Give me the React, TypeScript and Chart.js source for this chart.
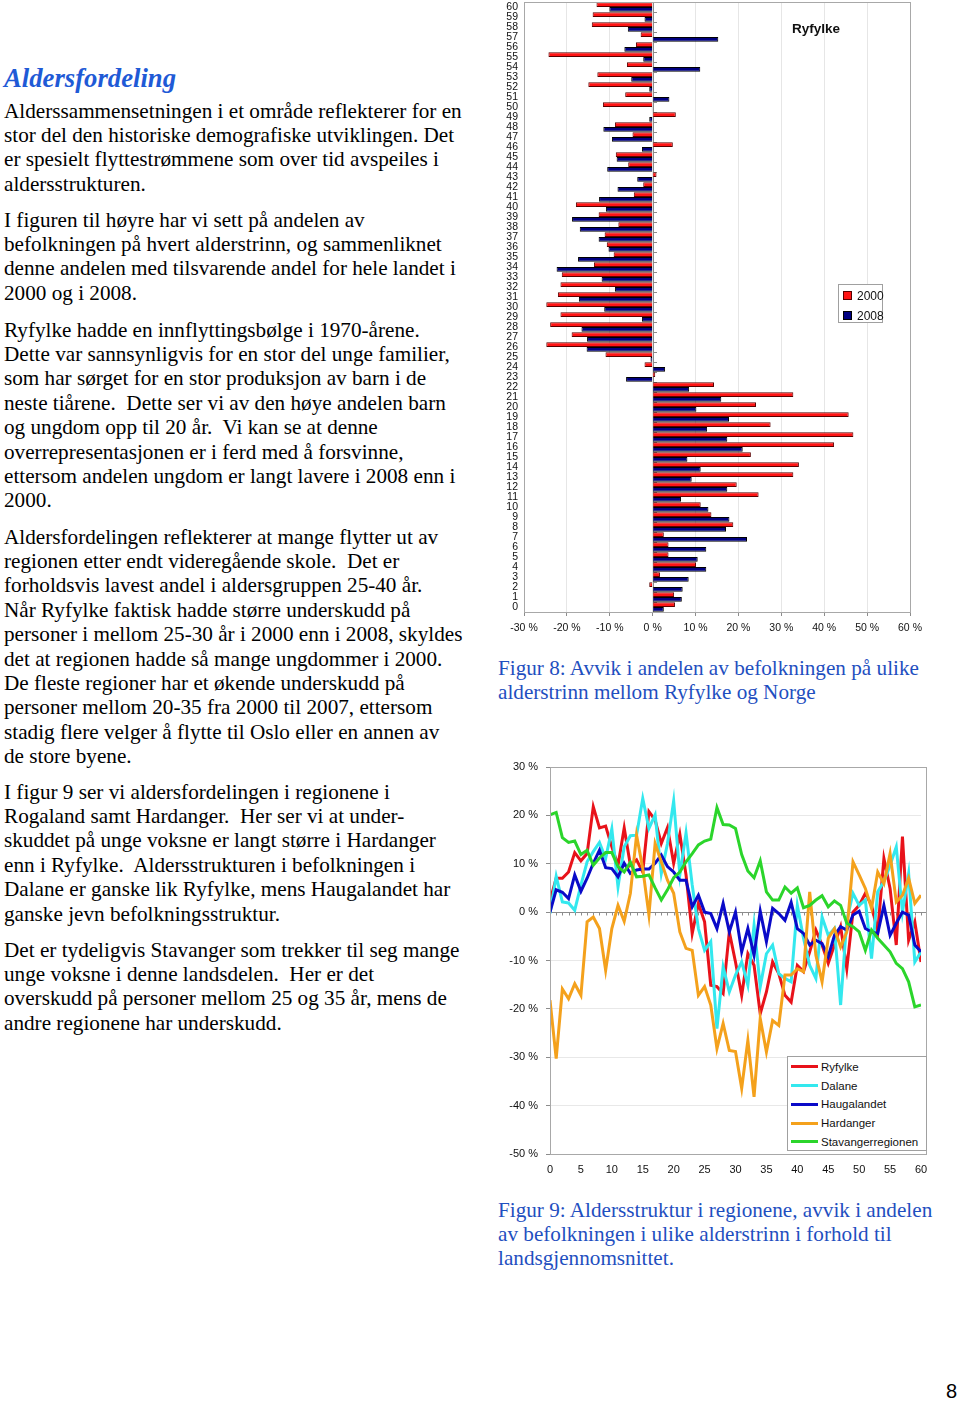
import React, { useEffect, useRef } from "react";
import { Chart, registerables } from "chart.js";
Chart.register(...registerables);

// ---------- Figure 8 data (Ryfylke vs Norway, deviation in %) ----------
const ages = [0,1,2,3,4,5,6,7,8,9,10,11,12,13,14,15,16,17,18,19,20,21,22,23,24,25,26,27,28,29,30,31,32,33,34,35,36,37,38,39,40,41,42,43,44,45,46,47,48,49,50,51,52,53,54,55,56,57,58,59,60];
const barLabels = ["2000", "2008"];
const dev2000 = [5.2,5.0,-0.8,1.7,10.1,3.7,3.7,2.6,18.8,13.7,11.2,24.7,19.6,32.8,34.1,22.9,42.3,46.8,27.5,45.7,24.1,32.8,14.3,0.6,-1.9,-11.0,-24.8,-18.9,-23.9,-21.5,-24.8,-22.1,-21.5,-21.2,-13.7,-9.1,-10.7,-11.2,-8.0,-12.6,-17.9,-4.4,-2.2,0.9,-5.7,-8.6,4.7,-4.7,-8.8,5.4,-11.6,-6.4,-15.0,-12.9,-6.0,-24.3,-3.9,-2.8,-14.2,-14.0,-13.1];
const dev2008 = [2.6,6.8,7.0,8.4,12.5,10.5,12.5,22.0,17.1,17.9,13.0,6.6,17.4,9.1,11.2,8.1,21.0,17.4,12.7,17.8,10.2,16.0,8.5,-6.2,2.9,-0.5,-15.4,-15.3,-16.6,-2.5,-11.3,-17.2,-8.8,-11.9,-22.4,-17.4,-10.3,-12.6,-17.0,-18.8,-10.9,-12.5,-8.2,-3.6,-10.6,-8.4,-2.5,-9.5,-11.5,-0.8,-0.2,3.9,-0.8,-5.0,11.1,-2.2,-6.6,15.3,-5.8,-1.9,-10.1];
const barXTicks = [-30,-20,-10,0,10,20,30,40,50,60];

// ---------- Figure 9 data (regions, deviation in %) ----------
const regionNames = ["Ryfylke", "Dalane", "Haugalandet", "Hardanger", "Stavangerregionen"];
const ryfylke = [2.3,7.0,7.0,8.3,12.3,10.6,12.1,21.8,17.4,17.8,13.5,9.7,17.4,9.7,10.8,8.3,20.8,19.0,14.2,17.5,10.1,16.1,7.7,-4.4,1.8,-2.0,-15.1,-15.4,-16.8,-4.1,-10.3,-17.2,-8.6,-11.0,-21.0,-16.5,-10.3,-12.7,-17.2,-18.6,-11.0,-12.3,-8.2,-3.7,-6.8,-10.6,-6.8,-3.0,-11.7,0.0,1.4,3.9,1.4,-4.1,11.1,4.9,-6.8,15.6,-5.8,-2.0,-10.3];
const dalane = [-0.3,7.4,2.1,1.9,0.4,5.6,10.4,12.5,14.4,11.1,17.2,5.2,13.5,15.8,15.9,23.5,17.3,20.1,8.0,14.2,23.0,7.7,16.4,5.6,-3.4,-7.9,-6.1,-24.1,-11.3,-16.5,-13.0,-10.3,-15.1,-2.7,-15.4,-8.6,-6.8,-12.7,-13.7,-14.4,1.4,-5.4,-11.0,-13.7,-1.0,-4.8,-3.4,-19.2,-1.7,3.9,1.4,2.5,-9.6,4.2,6.3,9.7,13.5,0.0,8.0,-10.3,-8.2];
const haugalandet = [0.0,4.6,4.1,2.8,7.7,4.3,7.0,10.1,12.8,9.2,9.0,7.3,10.1,8.0,8.7,8.9,8.9,10.1,11.8,9.4,8.3,6.6,6.6,1.1,3.5,0.0,-0.3,-3.4,1.8,-4.1,0.0,-8.2,-3.4,-8.9,0.2,-6.1,0.8,-0.3,-1.7,2.0,-3.4,-4.4,-6.8,-5.8,-6.5,-9.2,-4.8,-3.0,-3.7,-0.6,0.2,-3.4,-4.1,-4.4,1.4,-4.8,-2.3,0.0,-0.6,-6.8,-8.2];
const hardanger = [-18.2,-30.3,-15.9,-17.9,-14.8,-17.2,-2.0,-1.0,-3.4,-12.0,-3.4,1.4,-1.9,3.9,15.9,9.0,-0.6,14.2,10.4,6.6,3.9,-4.1,-7.5,-7.9,-17.2,-15.4,-19.2,-28.2,-23.0,-28.6,-28.8,-36.4,-26.5,-38.2,-22.0,-28.9,-22.4,-23.4,-13.0,-13.0,-11.7,-12.3,4.2,-8.9,-14.4,-5.4,-3.4,-7.2,-4.1,10.4,7.7,4.9,0.8,8.3,5.9,12.1,2.1,3.5,7.0,1.8,3.5];
const stavanger = [20.1,20.6,15.4,14.4,14.7,11.9,12.8,9.7,11.2,12.3,12.3,9.4,8.3,10.3,7.3,7.4,7.7,5.0,2.5,4.6,7.1,8.3,10.4,12.1,13.9,14.7,15.1,21.6,18.1,18.0,17.3,11.9,8.5,7.1,10.6,4.2,2.5,2.5,5.2,3.9,5.0,0.9,1.4,2.5,3.4,1.1,2.3,1.4,-2.3,-3.0,-4.1,-7.9,-3.7,-5.4,-6.8,-8.2,-10.6,-11.7,-14.4,-19.6,-19.2];
const regionSeries = [ryfylke, dalane, haugalandet, hardanger, stavanger];
const regionColors = ["#e8121a", "#33e8ee", "#0a0ac8", "#f4a11c", "#2bd52b"];
const lineXTicks = [0,5,10,15,20,25,30,35,40,45,50,55,60];
const lineYTicks = [-50,-40,-30,-20,-10,0,10,20,30];

const SANS = "'Liberation Sans', Arial, sans-serif";
const SERIF = "'Liberation Serif', 'Times New Roman', serif";

const noPadY = (s: any, w: number) => { s.width = w; s.paddingTop = 0; s.paddingBottom = 0; };
const noPadX = (s: any, h: number) => { s.height = h; s.paddingLeft = 0; s.paddingRight = 0; };

const frameBar = {
  id: "frameBar",
  beforeDatasetsDraw(chart: any) {
    const { ctx, chartArea: a, scales } = chart;
    const x0 = scales.x.getPixelForValue(0);
    ctx.save();
    ctx.strokeStyle = "#8c8c8c";
    ctx.lineWidth = 1;
    ctx.beginPath();
    ctx.moveTo(Math.round(x0) + 0.5, a.top);
    ctx.lineTo(Math.round(x0) + 0.5, a.bottom);
    const n = ages.length;
    for (let i = 0; i <= n; i++) {
      const y = a.top + ((a.bottom - a.top) * i) / n;
      ctx.moveTo(Math.round(x0), Math.round(y) + 0.5);
      ctx.lineTo(Math.round(x0) + 4, Math.round(y) + 0.5);
    }
    ctx.stroke();
    ctx.restore();
  },
  afterDraw(chart: any) {
    const { ctx, chartArea: a } = chart;
    ctx.save();
    ctx.strokeStyle = "#a8a8a8";
    ctx.lineWidth = 1;
    ctx.strokeRect(Math.round(a.left) + 0.5, Math.round(a.top) + 0.5, Math.round(a.right - a.left), Math.round(a.bottom - a.top));
    ctx.restore();
  },
};

const frameLine = {
  id: "frameLine",
  beforeDatasetsDraw(chart: any) {
    const { ctx, chartArea: a, scales } = chart;
    const y0 = Math.round(scales.y.getPixelForValue(0)) + 0.5;
    ctx.save();
    ctx.strokeStyle = "#8c8c8c";
    ctx.lineWidth = 1;
    ctx.beginPath();
    ctx.moveTo(a.left, y0);
    ctx.lineTo(a.right + 5, y0);
    for (let i = 0; i < ages.length; i++) {
      const x = Math.round(scales.x.getPixelForValue(ages[i])) + 0.5;
      ctx.moveTo(x, y0);
      ctx.lineTo(x, y0 + 3);
    }
    ctx.stroke();
    ctx.restore();
  },
  afterDraw(chart: any) {
    const { ctx, chartArea: a } = chart;
    ctx.save();
    ctx.strokeStyle = "#a8a8a8";
    ctx.lineWidth = 1;
    ctx.strokeRect(Math.round(a.left) + 0.5, Math.round(a.top) + 0.5, Math.round(a.right - a.left) + 5, Math.round(a.bottom - a.top));
    ctx.restore();
  },
};

function BarChart() {
  const ref = useRef<HTMLCanvasElement>(null);
  useEffect(() => {
    const chart = new Chart(ref.current as HTMLCanvasElement, {
      type: "bar",
      data: {
        labels: ages.map(String),
        datasets: [
          { label: barLabels[0], data: dev2000, backgroundColor: "#ff1414", borderColor: "#5a0000", borderWidth: 1, categoryPercentage: 0.96, barPercentage: 1 },
          { label: barLabels[1], data: dev2008, backgroundColor: "#000080", borderColor: "#000000", borderWidth: 1, categoryPercentage: 0.96, barPercentage: 1 },
        ],
      },
      options: {
        indexAxis: "y",
        responsive: false,
        animation: false,
        layout: { autoPadding: false, padding: { top: 2, right: 20, left: 0, bottom: 0 } },
        plugins: { legend: { display: false }, tooltip: { enabled: false } },
        scales: {
          x: {
            min: -30,
            max: 60,
            afterBuildTicks: (s: any) => { s.ticks = barXTicks.map((v) => ({ value: v })); },
            ticks: { callback: (v: any) => v + " %", font: { family: SANS, size: 10.5 }, color: "#111", padding: 6, maxRotation: 0 },
            grid: { color: "#e6e6e6", tickColor: "#8c8c8c", tickLength: 4 },
            border: { color: "#8c8c8c" },
            afterFit: (s: any) => noPadX(s, 28),
          },
          y: {
            reverse: true,
            ticks: { autoSkip: false, font: { family: SANS, size: 10.5 }, color: "#111", padding: 6 },
            grid: { display: false, drawTicks: false },
            border: { color: "#a8a8a8" },
            afterFit: (s: any) => noPadY(s, 24),
          },
        },
      } as any,
      plugins: [frameBar],
    });
    return () => chart.destroy();
  }, []);
  return <canvas ref={ref} width={430} height={640} style={{ position: "absolute", left: 500, top: 0, width: 430, height: 640 }} />;
}

function LineChart() {
  const ref = useRef<HTMLCanvasElement>(null);
  useEffect(() => {
    const chart = new Chart(ref.current as HTMLCanvasElement, {
      type: "line",
      data: {
        datasets: regionNames.map((name, i) => ({
          label: name,
          data: regionSeries[i].map((v, j) => ({ x: ages[j], y: v })),
          borderColor: regionColors[i],
          backgroundColor: regionColors[i],
          borderWidth: 3,
          pointRadius: 0,
          tension: 0,
          order: regionNames.length - 1 - i,
        })),
      },
      options: {
        responsive: false,
        animation: false,
        layout: { autoPadding: false, padding: { top: 7, right: 9, left: 0, bottom: 0 } },
        plugins: { legend: { display: false }, tooltip: { enabled: false } },
        scales: {
          x: {
            type: "linear",
            min: 0,
            max: 60,
            afterBuildTicks: (s: any) => { s.ticks = lineXTicks.map((v) => ({ value: v })); },
            ticks: { font: { family: SANS, size: 11 }, color: "#111", padding: 9, maxRotation: 0 },
            grid: { display: false, drawTicks: false },
            border: { display: false },
            afterFit: (s: any) => noPadX(s, 26),
          },
          y: {
            min: -50,
            max: 30,
            afterBuildTicks: (s: any) => { s.ticks = lineYTicks.map((v) => ({ value: v })); },
            ticks: { callback: (v: any) => v + " %", font: { family: SANS, size: 11 }, color: "#111", padding: 8 },
            grid: { color: "#e8e8e8", tickColor: "#8c8c8c", tickLength: 4 },
            border: { color: "#8c8c8c" },
            afterFit: (s: any) => noPadY(s, 50),
          },
        },
      } as any,
      plugins: [frameLine],
    });
    return () => chart.destroy();
  }, []);
  return <canvas ref={ref} width={430} height={420} style={{ position: "absolute", left: 500, top: 760, width: 430, height: 420 }} />;
}

const paragraphs: { top: number; lines: string[] }[] = [
  { top: 98.5, lines: [
    "Alderssammensetningen i et område reflekterer for en",
    "stor del den historiske demografiske utviklingen. Det",
    "er spesielt flyttestrømmene som over tid avspeiles i",
    "aldersstrukturen.",
  ] },
  { top: 207.5, lines: [
    "I figuren til høyre har vi sett på andelen av",
    "befolkningen på hvert alderstrinn, og sammenliknet",
    "denne andelen med tilsvarende andel for hele landet i",
    "2000 og i 2008.",
  ] },
  { top: 317.5, lines: [
    "Ryfylke hadde en innflyttingsbølge i 1970-årene.",
    "Dette var sannsynligvis for en stor del unge familier,",
    "som har sørget for en stor produksjon av barn i de",
    "neste tiårene.  Dette ser vi av den høye andelen barn",
    "og ungdom opp til 20 år.  Vi kan se at denne",
    "overrepresentasjonen er i ferd med å forsvinne,",
    "ettersom andelen ungdom er langt lavere i 2008 enn i",
    "2000.",
  ] },
  { top: 524.5, lines: [
    "Aldersfordelingen reflekterer at mange flytter ut av",
    "regionen etter endt videregående skole.  Det er",
    "forholdsvis lavest andel i aldersgruppen 25-40 år.",
    "Når Ryfylke faktisk hadde større underskudd på",
    "personer i mellom 25-30 år i 2000 enn i 2008, skyldes",
    "det at regionen hadde så mange ungdommer i 2000.",
    "De fleste regioner har et økende underskudd på",
    "personer mellom 20-35 fra 2000 til 2007, ettersom",
    "stadig flere velger å flytte til Oslo eller en annen av",
    "de store byene.",
  ] },
  { top: 779.5, lines: [
    "I figur 9 ser vi aldersfordelingen i regionene i",
    "Rogaland samt Hardanger.  Her ser vi at under-",
    "skuddet på unge voksne er langt større i Hardanger",
    "enn i Ryfylke.  Aldersstrukturen i befolkningen i",
    "Dalane er ganske lik Ryfylke, mens Haugalandet har",
    "ganske jevn befolkningsstruktur.",
  ] },
  { top: 937.5, lines: [
    "Det er tydeligvis Stavanger som trekker til seg mange",
    "unge voksne i denne landsdelen.  Her er det",
    "overskudd på personer mellom 25 og 35 år, mens de",
    "andre regionene har underskudd.",
  ] },
];

const captions: { top: number; lines: string[] }[] = [
  { top: 655.5, lines: ["Figur 8: Avvik i andelen av befolkningen på ulike", "alderstrinn mellom Ryfylke og Norge"] },
  { top: 1197.5, lines: ["Figur 9: Aldersstruktur i regionene, avvik i andelen", "av befolkningen i ulike alderstrinn i forhold til", "landsgjennomsnittet."] },
];

export default function App() {
  const textStyle: React.CSSProperties = { position: "absolute", left: 4, fontFamily: SERIF, fontSize: 21.2, lineHeight: "24.4px", color: "#000", whiteSpace: "pre", margin: 0 };
  return (
    <div style={{ position: "absolute", left: 0, top: 0, width: 960, height: 1401, background: "#fff", overflow: "hidden" }}>
      <div style={{ position: "absolute", left: 4, top: 62, fontFamily: SERIF, fontSize: 26.7, lineHeight: "32px", fontWeight: "bold", fontStyle: "italic", color: "#1f5ad6", whiteSpace: "pre" }}>Aldersfordeling</div>
      {paragraphs.map((p, i) => (
        <div key={i} style={{ ...textStyle, top: p.top }}>
          {p.lines.map((l, j) => <div key={j}>{l}</div>)}
        </div>
      ))}
      {captions.map((p, i) => (
        <div key={"c" + i} style={{ ...textStyle, left: 498, top: p.top, color: "#1f4fc0" }}>
          {p.lines.map((l, j) => <div key={j}>{l}</div>)}
        </div>
      ))}
      <BarChart />
      <div style={{ position: "absolute", left: 792, top: 20, fontFamily: SANS, fontSize: 13.5, fontWeight: "bold", color: "#111", lineHeight: "18px" }}>Ryfylke</div>
      <div style={{ position: "absolute", left: 838, top: 284, width: 43, height: 37, border: "1px solid #a0a0a0", background: "#fff", fontFamily: SANS, fontSize: 12, color: "#111" }}>
        {barLabels.map((l, i) => (
          <div key={l} style={{ position: "absolute", left: 4, top: 4 + i * 20, height: 14, lineHeight: "14px", whiteSpace: "nowrap" }}>
            <span style={{ display: "inline-block", width: 7, height: 7, marginRight: 5, background: i === 0 ? "#ff1414" : "#000080", border: "1px solid " + (i === 0 ? "#5a0000" : "#000"), verticalAlign: "middle", position: "relative", top: -1 }} />
            {l}
          </div>
        ))}
      </div>
      <LineChart />
      <div style={{ position: "absolute", left: 787, top: 1056, width: 138, height: 93, border: "1px solid #a0a0a0", background: "#fff", fontFamily: SANS, fontSize: 11.5, color: "#111" }}>
        {regionNames.map((n, i) => (
          <div key={n} style={{ position: "absolute", left: 3, top: 2 + i * 18.7, height: 16, lineHeight: "16px", whiteSpace: "nowrap" }}>
            <span style={{ display: "inline-block", width: 27, height: 3, background: regionColors[i], verticalAlign: "middle", marginRight: 3, position: "relative", top: -1 }} />
            {n}
          </div>
        ))}
      </div>
      <div style={{ position: "absolute", left: 946, top: 1381, fontFamily: SANS, fontSize: 20, lineHeight: "20px", color: "#000" }}>8</div>
    </div>
  );
}
